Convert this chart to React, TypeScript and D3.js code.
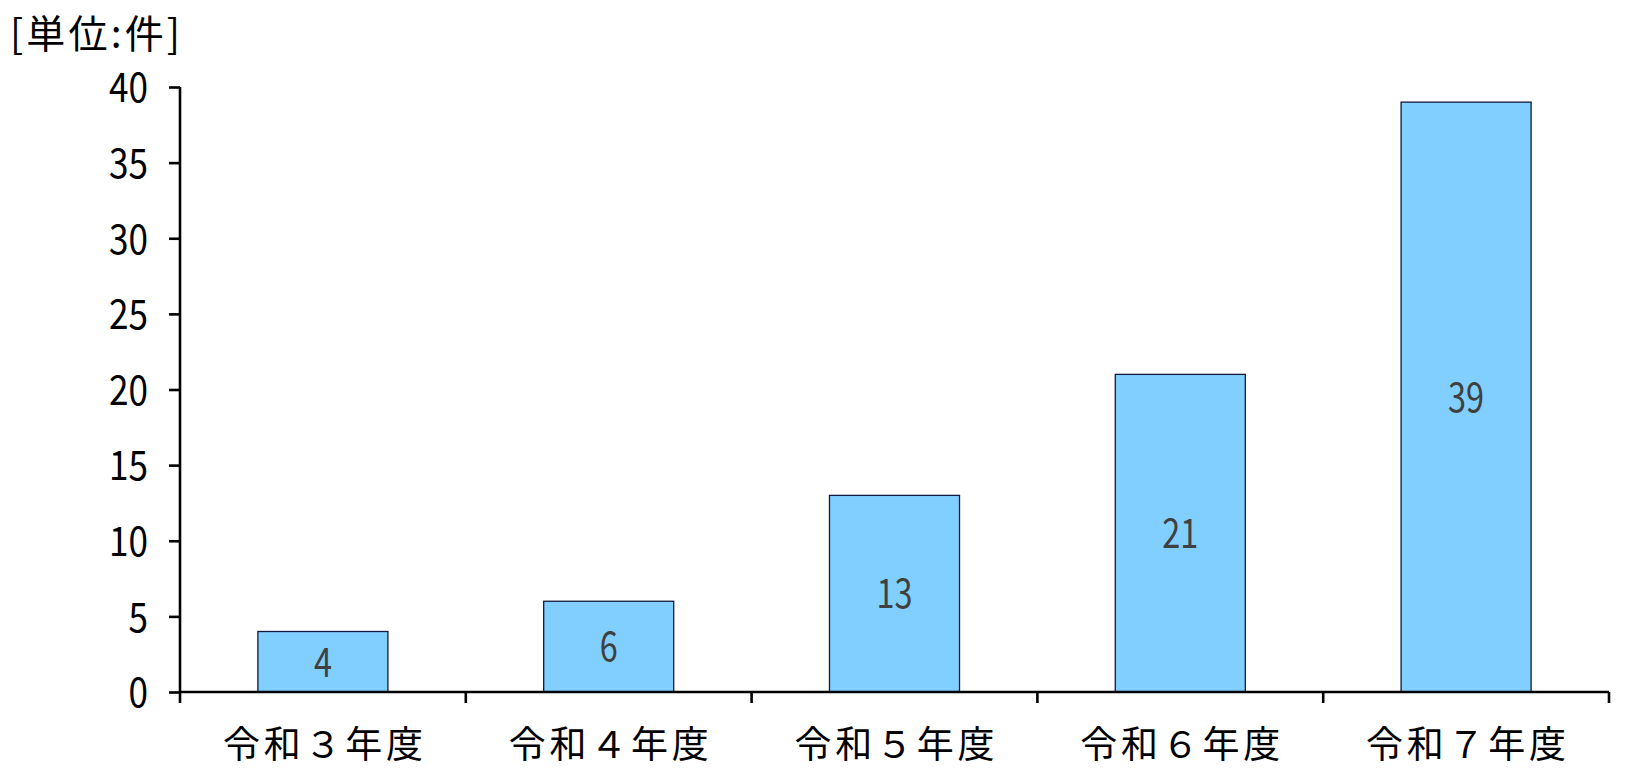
import { useEffect, useRef } from 'react';
import * as d3 from 'd3';

const categories = ['令和３年度', '令和４年度', '令和５年度', '令和６年度', '令和７年度'];
const counts = [4, 6, 13, 21, 39];
const yTicks = [0, 5, 10, 15, 20, 25, 30, 35, 40];
const unitLabel = '[単位:件]';

export default function App() {
	const svgRef = useRef<SVGSVGElement>(null);

	const width = 1638;
	const height = 780;
	const margin = { top: 87, right: 29, bottom: 88, left: 180 };
	const digitFont = "'Noto Sans CJK JP', sans-serif";

	useEffect(() => {
		if (!svgRef.current) return;
		const svg = d3.select(svgRef.current);
		svg.selectAll('*').remove();

		const innerWidth = width - margin.left - margin.right;
		const innerHeight = height - margin.top - margin.bottom;

		const g = svg.append('g').attr('transform', `translate(${margin.left},${margin.top})`);

		const xScale = d3.scaleBand<string>().domain(categories).range([0, innerWidth]).paddingInner(0).paddingOuter(0);
		const yScale = d3.scaleLinear().domain([0, 40]).range([innerHeight, 0]);

		const barW = xScale.bandwidth() * 0.455;

		// bars
		g.selectAll('.bar')
			.data(counts)
			.enter()
			.append('rect')
			.attr('class', 'bar')
			.attr('x', (_, i) => xScale(categories[i])! + (xScale.bandwidth() - barW) / 2)
			.attr('y', (d) => yScale(d))
			.attr('width', barW)
			.attr('height', (d) => innerHeight - yScale(d))
			.attr('fill', '#80cfff')
			.attr('stroke', '#141a3c')
			.attr('stroke-width', 1.3);

		// value labels (narrow digits)
		g.selectAll('.value')
			.data(counts)
			.enter()
			.append('text')
			.attr('class', 'value')
			.attr('x', (_, i) => xScale(categories[i])! + xScale.bandwidth() / 2)
			.attr('y', (d) => yScale(d / 2))
			.attr('dy', '0.36em')
			.attr('text-anchor', 'middle')
			.attr('fill', '#404040')
			.attr('textLength', (d) => String(d).length * 18)
			.attr('lengthAdjust', 'spacingAndGlyphs')
			.style('font-family', digitFont)
			.style('font-size', '41px')
			.text((d) => d);

		// y axis
		const yAxis = g
			.append('g')
			.call(d3.axisLeft(yScale).tickValues(yTicks).tickSize(11).tickPadding(21).tickFormat((d) => String(d)));
		yAxis.select('.domain').attr('stroke', '#000').attr('stroke-width', 2.6).attr('d', `M0,0V${innerHeight}`);
		yAxis.selectAll('.tick line').attr('stroke', '#000').attr('stroke-width', 2.6);
		yAxis
			.selectAll('.tick text')
			.attr('fill', '#000')
			.attr('dy', '0.36em')
			.attr('textLength', (d) => String(d).length * 19.5)
			.attr('lengthAdjust', 'spacingAndGlyphs')
			.style('font-family', digitFont)
			.style('font-size', '41px');

		// x axis
		const xAxis = g.append('g').attr('transform', `translate(0,${innerHeight})`);
		xAxis
			.append('path')
			.attr('d', `M0,0H${innerWidth}`)
			.attr('stroke', '#000')
			.attr('stroke-width', 2.6);
		const bounds = d3.range(categories.length + 1).map((i) => i * xScale.step());
		xAxis
			.selectAll('.xtick')
			.data(bounds)
			.enter()
			.append('line')
			.attr('x1', (d) => d)
			.attr('x2', (d) => d)
			.attr('y1', 0)
			.attr('y2', 11)
			.attr('stroke', '#000')
			.attr('stroke-width', 2.6);
		xAxis
			.selectAll('.xlabel')
			.data(categories)
			.enter()
			.append('text')
			.attr('x', (d) => xScale(d)! + xScale.bandwidth() / 2)
			.attr('y', 66)
			.attr('text-anchor', 'middle')
			.attr('fill', '#000')
			.attr('textLength', 200)
			.attr('lengthAdjust', 'spacing')
			.style('font-family', "'Noto Sans CJK JP', sans-serif")
			.style('font-size', '37px')
			.text((d) => d);

		// unit
		svg.append('text')
			.attr('x', 10)
			.attr('y', 48)
			.attr('fill', '#000')
			.attr('textLength', 170)
			.attr('lengthAdjust', 'spacing')
			.style('font-family', "'Noto Sans CJK JP', sans-serif")
			.style('font-size', '39px')
			.text(unitLabel);
	}, []);

	return (
		<svg
			ref={svgRef}
			width={width}
			height={height}
			style={{ position: 'absolute', left: 0, top: 0, background: '#fff' }}
		></svg>
	);
}
